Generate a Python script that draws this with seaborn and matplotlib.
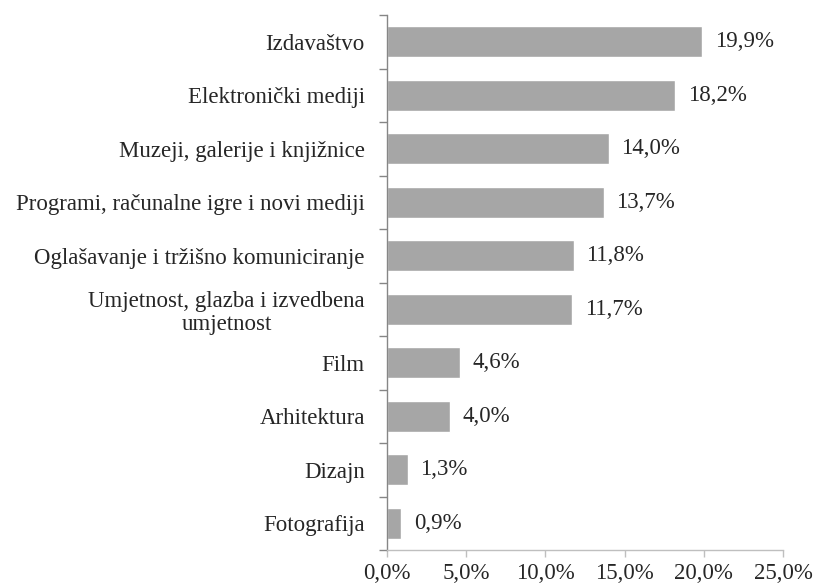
import matplotlib
matplotlib.use("Agg")
import matplotlib.pyplot as plt
import seaborn as sns
import pandas as pd
from matplotlib.ticker import FixedLocator, FuncFormatter

# === Data ===
categories = [
    "Izdavaštvo",
    "Elektronički mediji",
    "Muzeji, galerije i knjižnice",
    "Programi, računalne igre i novi mediji",
    "Oglašavanje i tržišno komuniciranje",
    "Umjetnost, glazba i izvedbena\numjetnost",
    "Film",
    "Arhitektura",
    "Dizajn",
    "Fotografija",
]
shares = [19.9, 18.2, 14.0, 13.7, 11.8, 11.7, 4.6, 4.0, 1.3, 0.9]
x_ticks = [0, 5, 10, 15, 20, 25]

df = pd.DataFrame({"category": categories, "share": shares})

sns.set_style("white")
plt.rcParams["font.family"] = ["Liberation Serif", "DejaVu Serif"]
plt.rcParams["font.size"] = 16.5

fig = plt.figure(figsize=(8.16, 5.87), dpi=100)
ax = fig.add_axes([0.4743, 0.063, 0.4853, 0.9114])

sns.barplot(data=df, y="category", x="share", orient="h", color="#A6A6A6",
            saturation=1, width=0.58, ax=ax)

ax.set_xlim(0, 25)
ax.set_ylim(len(categories) - 0.5, -0.5)
ax.set_xlabel("")
ax.set_ylabel("")

# value labels with decimal comma
labels = [f"{v:.1f}%".replace(".", ",") for v in shares]
ax.bar_label(ax.containers[0], labels=labels, padding=9, fontsize=16.5)

# x axis (kept just inside the bottom edge)
ax.xaxis.set_major_locator(FixedLocator(x_ticks))
ax.xaxis.set_major_formatter(FuncFormatter(lambda v, p: f"{v:.1f}%".replace(".", ",")))
ax.tick_params(axis="x", direction="out", length=5, width=1, color="#BFBFBF",
               pad=4, labelsize=16.5, bottom=True)

# y axis: ticks between categories
ax.tick_params(axis="y", which="major", length=0, pad=16, labelsize=16.5)
ax.yaxis.set_minor_locator(FixedLocator([i - 0.5 for i in range(len(categories) + 1)]))
ax.tick_params(axis="y", which="minor", direction="out", length=6, width=1,
               color="#868686", left=True)
for lbl in ax.get_yticklabels():
    lbl.set_multialignment("center")
    lbl.set_linespacing(1.15)

for side in ["top", "right"]:
    ax.spines[side].set_visible(False)
ax.spines["left"].set_color("#868686")
ax.spines["bottom"].set_color("#BFBFBF")
ax.spines["left"].set_linewidth(1)
ax.spines["bottom"].set_linewidth(1)

fig.savefig("out.png", dpi=100)
